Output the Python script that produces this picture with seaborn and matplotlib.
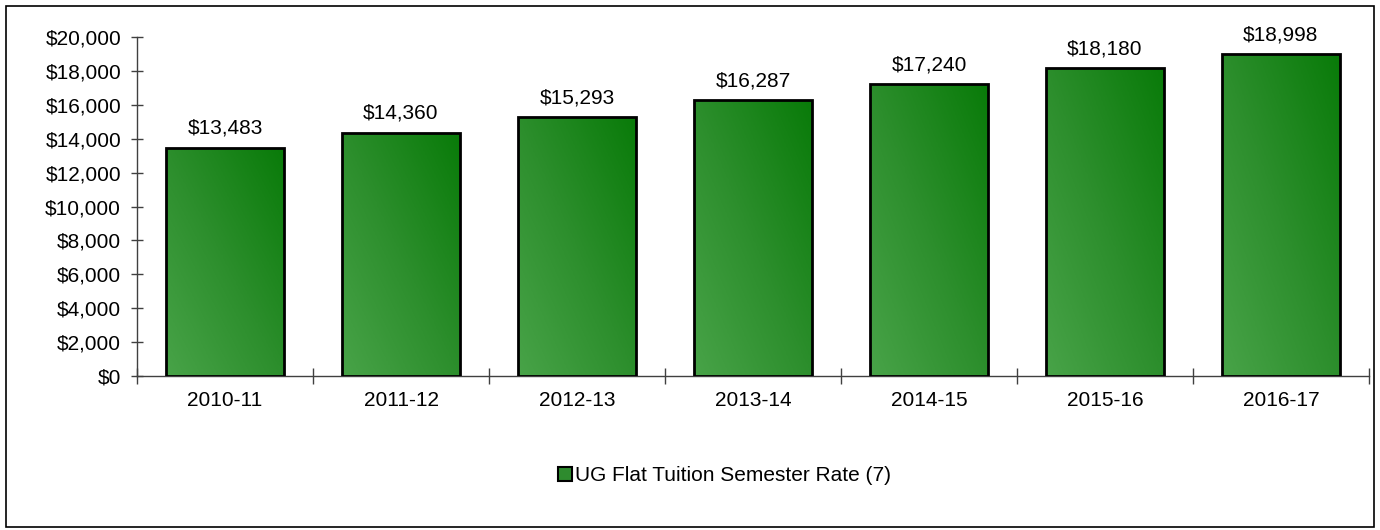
import numpy as np
import pandas as pd
import matplotlib
matplotlib.use("Agg")
import matplotlib.pyplot as plt
from matplotlib.colors import LinearSegmentedColormap
from matplotlib.patches import Rectangle
from matplotlib.ticker import FuncFormatter, FixedLocator
import seaborn as sns

years = ["2010-11", "2011-12", "2012-13", "2013-14", "2014-15", "2015-16", "2016-17"]
values = [13483, 14360, 15293, 16287, 17240, 18180, 18998]
series_name = "UG Flat Tuition Semester Rate (7)"
y_ticks = list(range(0, 20001, 2000))

sns.set_theme(style="white")
plt.rcParams["font.family"] = ["Liberation Sans", "DejaVu Sans"]
plt.rcParams["text.color"] = "black"

df = pd.DataFrame({"year": years, "value": values})

fig = plt.figure(figsize=(13.8, 5.3), dpi=100)
ax = fig.add_axes([0.0993, 0.2906, 0.8927, 0.6394])

sns.barplot(data=df, x="year", y="value", ax=ax, width=0.67,
            color="#2e8b2e", edgecolor="black", linewidth=2.0,
            saturation=1, zorder=2)

# diagonal gradient fill (light bottom-left, dark top-right)
cmap = LinearSegmentedColormap.from_list("g", ["#48a348", "#2c8e2c", "#097b09"])
gx, gy = np.meshgrid(np.linspace(0, 1, 64), np.linspace(0, 1, 64))
grad = (gx + gy) / 2.0
for p in ax.patches:
    x0, y0 = p.get_x(), p.get_y()
    w, h = p.get_width(), p.get_height()
    im = ax.imshow(grad, cmap=cmap, extent=[x0, x0 + w, y0, y0 + h],
                   origin="lower", aspect="auto", zorder=2.5, vmin=0, vmax=1)
    im.set_clip_path(p)
    p.set_facecolor("none")
    p.set_zorder(3)

ax.set_xlim(-0.5, len(years) - 0.5)
ax.set_ylim(0, 20000)
ax.set_xlabel("")
ax.set_ylabel("")

# value labels
for i, v in enumerate(values):
    ax.annotate(f"${v:,.0f}", (i, v), xytext=(0, 7), textcoords="offset points",
                ha="center", va="bottom", fontsize=15, color="black",
                annotation_clip=False, zorder=4)

ax.yaxis.set_major_locator(FixedLocator(y_ticks))
ax.yaxis.set_major_formatter(FuncFormatter(lambda v, _: f"${v:,.0f}"))
ax.tick_params(axis="y", which="major", direction="inout", length=9, width=1,
               color="#404040", labelsize=15, labelcolor="black", pad=7, left=True)
ax.xaxis.set_minor_locator(FixedLocator(np.arange(-0.5, len(years), 1.0)))
ax.tick_params(axis="x", which="major", length=0, labelsize=15, labelcolor="black", pad=11)
ax.tick_params(axis="x", which="minor", direction="inout", length=11, width=1,
               color="#404040", bottom=True)

for s in ["top", "right"]:
    ax.spines[s].set_visible(False)
for s in ["left", "bottom"]:
    ax.spines[s].set_visible(True)
    ax.spines[s].set_color("#404040")
    ax.spines[s].set_linewidth(1)

# legend
handle = Rectangle((0, 0), 1, 1, facecolor="#2e8b2e", edgecolor="black", linewidth=1.5)
leg = fig.legend([handle], [series_name], loc="center", bbox_to_anchor=(0.525, 0.102),
                 frameon=False, fontsize=15, handlelength=0.7, handleheight=0.7,
                 handletextpad=0.15)
for t in leg.get_texts():
    t.set_color("black")

# outer chart border
fig.patches.append(Rectangle((0.004, 0.006), 0.992, 0.983, transform=fig.transFigure,
                             fill=False, edgecolor="black", linewidth=1.2))

fig.savefig("out.png", dpi=100)
